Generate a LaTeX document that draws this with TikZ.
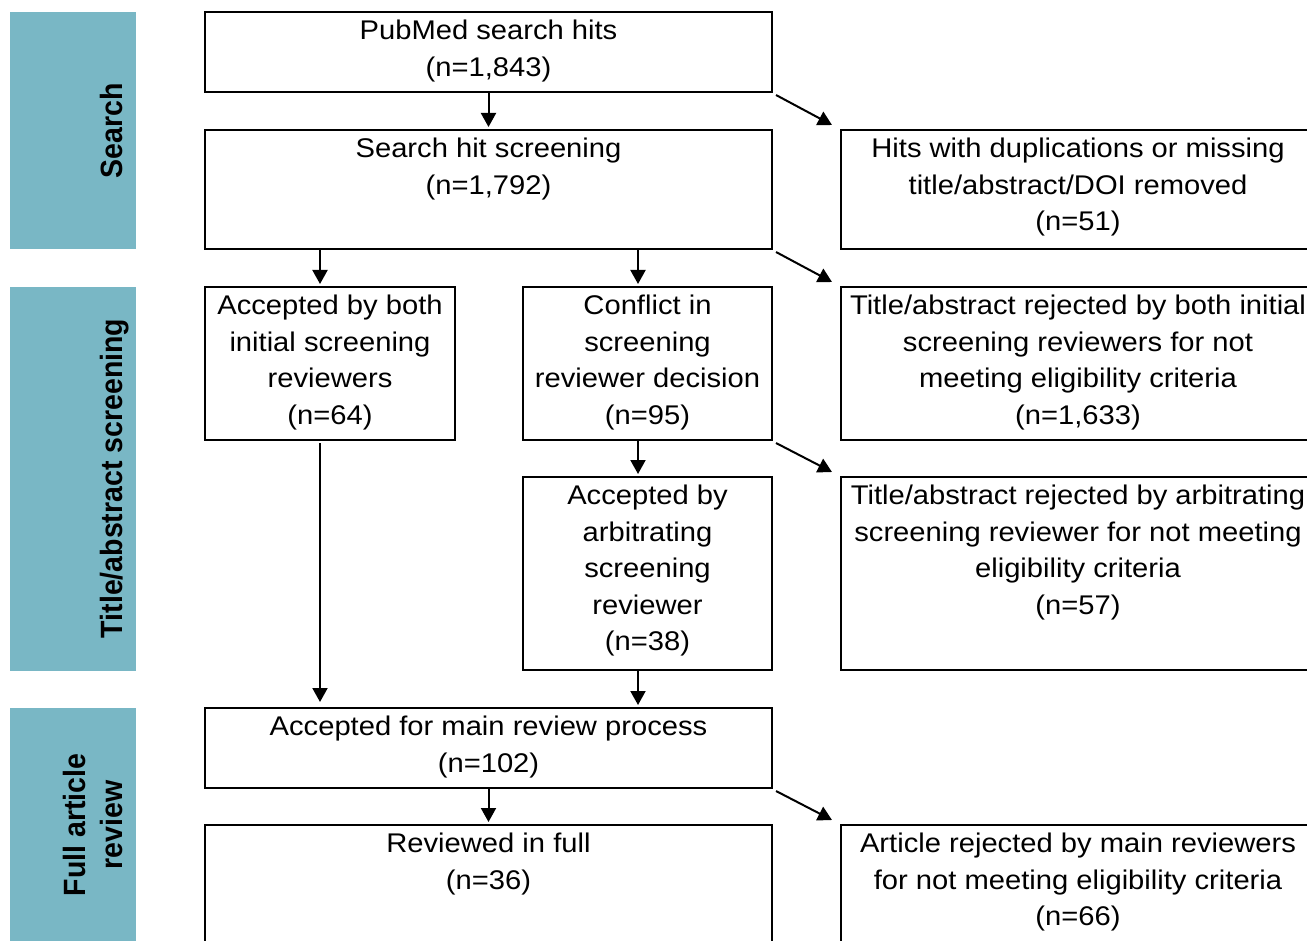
\documentclass[tikz,border=0pt]{standalone}
\usepackage{fontspec}
\setmainfont{Liberation Sans}[FakeStretch=1.08]
\newfontfamily\sidefont{Liberation Sans}
\usetikzlibrary{arrows.meta}
\definecolor{sidebar}{RGB}{121,183,197}
\begin{document}
\begin{tikzpicture}[x=0.5pt,y=-0.5pt,
  box/.style={draw=black, line width=1pt, anchor=north west, inner sep=0pt, outer sep=0pt},
  txt/.style={anchor=north, align=center, inner sep=0pt, font=\fontsize{13.5}{18.2}\selectfont},
  bar/.style={fill=sidebar, draw=none, anchor=north west, inner sep=0pt, outer sep=0pt, minimum width=63pt},
  sidelabel/.style={rotate=90, inner sep=0pt, font=\sidefont\bfseries\fontsize{14.25}{17.13}\selectfont},
  arr/.style={line width=1pt, -{Triangle[length=7pt,width=7.5pt]}, shorten >=1.5pt},
  diag/.style={line width=1pt, -{Triangle[length=7pt,width=7.5pt]}}
]
\useasboundingbox (0,0) rectangle (1307,941);
\clip (0,0) rectangle (1307,941);

% side bars
\node[bar, minimum height=118.5pt] (barS) at (10,12) {};
\node[bar, minimum height=192pt] (barT) at (10,287) {};
\node[bar, minimum height=125pt] (barF) at (10,708) {};
\node[sidelabel, anchor=base] (labS) at (122,131) {\scalebox{1}[1.08]{Search}};
\node[sidelabel, anchor=base] (labT) at (122,478.5) {\scalebox{1}[1.08]{Title/abstract screening}};
\node[sidelabel, anchor=center] (labF) at (96.1,825) {\scalebox{1}[1.08]{\begin{tabular}{@{}c@{}}Full article\\review\end{tabular}}};

% boxes
\node[box, minimum width=283.5pt, minimum height=40pt] (pub) at (205,12) {};
\node[box, minimum width=283.5pt, minimum height=59.5pt] (scr) at (205,130) {};
\node[box, minimum width=237pt, minimum height=59.5pt] (dup) at (841,130) {};
\node[box, minimum width=125pt, minimum height=76.5pt] (acc) at (205,287) {};
\node[box, minimum width=124.5pt, minimum height=76.5pt] (con) at (523,287) {};
\node[box, minimum width=237pt, minimum height=76.5pt] (rej1) at (841,287) {};
\node[box, minimum width=124.5pt, minimum height=96.5pt] (arb) at (523,477) {};
\node[box, minimum width=237pt, minimum height=96.5pt] (rej2) at (841,477) {};
\node[box, minimum width=283.5pt, minimum height=40pt] (main) at (205,708) {};
\node[box, minimum width=283.5pt, minimum height=65pt] (full) at (205,825) {};
\node[box, minimum width=237pt, minimum height=65pt] (rej3) at (841,825) {};

% texts
\node[txt] (pubt) at ([yshift=-4pt]pub.north) {PubMed search hits\\(n=1,843)};
\node[txt] (scrt) at ([yshift=-4pt]scr.north) {Search hit screening\\(n=1,792)};
\node[txt] (dupt) at ([yshift=-4pt]dup.north) {Hits with duplications or missing\\title/abstract/DOI removed\\(n=51)};
\node[txt] (acct) at ([yshift=-4pt]acc.north) {Accepted by both\\initial screening\\reviewers\\(n=64)};
\node[txt] (cont) at ([yshift=-4pt]con.north) {Conflict in\\screening\\reviewer decision\\(n=95)};
\node[txt] (rej1t) at ([yshift=-4pt]rej1.north) {Title/abstract rejected by both initial\\screening reviewers for not\\meeting eligibility criteria\\(n=1,633)};
\node[txt] (arbt) at ([yshift=-4pt]arb.north) {Accepted by\\arbitrating\\screening\\reviewer\\(n=38)};
\node[txt] (rej2t) at ([yshift=-4pt]rej2.north) {Title/abstract rejected by arbitrating\\screening reviewer for not meeting\\eligibility criteria\\(n=57)};
\node[txt] (maint) at ([yshift=-4pt]main.north) {Accepted for main review process\\(n=102)};
\node[txt] (fullt) at ([yshift=-4pt]full.north) {Reviewed in full\\(n=36)};
\node[txt] (rej3t) at ([yshift=-4pt]rej3.north) {Article rejected by main reviewers\\for not meeting eligibility criteria\\(n=66)};

% vertical arrows
\draw[arr] (pub.south) -- (scr.north);
\draw[arr] ([xshift=-5pt]acc.north |- scr.south) -- ([xshift=-5pt]acc.north);
\draw[arr] ([xshift=-4.75pt]con.north |- scr.south) -- ([xshift=-4.75pt]con.north);
\draw[arr] ([xshift=-4.75pt]con.south) -- ([xshift=-4.75pt]arb.north);
\draw[arr, shorten >=3pt] ([xshift=-5pt,yshift=-1.5pt]acc.south) -- ([xshift=-5pt]acc.south |- main.north);
\draw[arr] ([xshift=-4.75pt]arb.south) -- ([xshift=-4.75pt]arb.south |- main.north);
\draw[arr] (main.south) -- (full.north);

% diagonal arrows
\draw[diag] ([xshift=2pt,yshift=-1.5pt]pub.south east) -- ([xshift=-4.5pt,yshift=2.5pt]dup.north west);
\draw[diag] ([xshift=2pt,yshift=-1.5pt]scr.south east) -- ([xshift=-4.5pt,yshift=2.5pt]rej1.north west);
\draw[diag] ([xshift=2pt,yshift=-1.5pt]con.south east) -- ([xshift=-4.5pt,yshift=2.5pt]rej2.north west);
\draw[diag] ([xshift=2pt,yshift=-1.5pt]main.south east) -- ([xshift=-4.5pt,yshift=2.5pt]rej3.north west);
\end{tikzpicture}
\end{document}
